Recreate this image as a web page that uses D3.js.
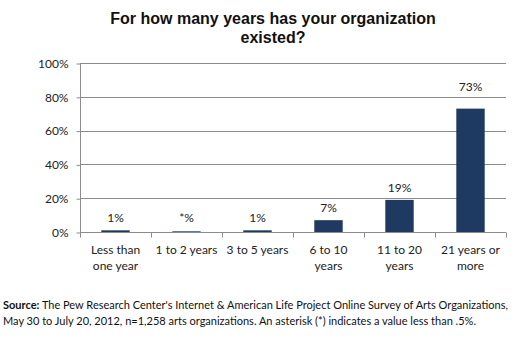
<!DOCTYPE html>
<html>
<head>
<meta charset="utf-8">
<script src="https://cdn.jsdelivr.net/npm/d3@7"></script>
<style>
  html, body { margin: 0; padding: 0; background: #fff; }
  svg { display: block; }
</style>
</head>
<body>
<div id="mydraw"></div>
<script>
// survey answers, share of arts organizations
var categories = [
  ["Less than", "one year"],
  ["1 to 2 years"],
  ["3 to 5 years"],
  ["6 to 10", "years"],
  ["11 to 20", "years"],
  ["21 years or", "more"]
];
var values = [1, 0.4, 1, 7, 19, 73];
var valueLabels = ["1%", "*%", "1%", "7%", "19%", "73%"];
var yTicks = [0, 20, 40, 60, 80, 100];
var titleLines = ["For how many years has your organization", "existed?"];

var width = 526, height = 342;
var margin = { top: 63, right: 20, bottom: 110, left: 80 };

var svg = d3.select("div#mydraw").append("svg")
    .attr("width", width)
    .attr("height", height);

var x = d3.scaleBand()
    .domain(d3.range(categories.length))
    .range([margin.left, 506])
    .paddingInner(0.6)
    .paddingOuter(0.3);

var y = d3.scaleLinear()
    .domain([0, 100])
    .range([232, margin.top]);

var bodyFont = "Lato, 'Open Sans', sans-serif";

// ---------------
// title
svg.append("text")
    .attr("x", 273)
    .attr("y", 24)
    .attr("text-anchor", "middle")
    .style("font-family", "'Liberation Sans', Arial, sans-serif")
    .style("font-weight", "bold")
    .style("font-size", "16px")
    .style("fill", "#111")
    .selectAll("tspan")
    .data(titleLines)
    .enter()
    .append("tspan")
    .attr("x", 273)
    .attr("dy", function(d, i) { return i ? 19 : 0; })
    .text(function(d) { return d; });

// ---------------
// gridlines + y axis
svg.append("g")
    .selectAll("line")
    .data(yTicks.filter(function(d) { return d > 0; }))
    .enter()
    .append("line")
    .attr("x1", margin.left)
    .attr("x2", 506)
    .attr("y1", function(d) { return Math.round(y(d)) + 0.5; })
    .attr("y2", function(d) { return Math.round(y(d)) + 0.5; })
    .attr("stroke", "#8c8c8c")
    .attr("stroke-width", 1);

var yAxis = svg.append("g")
    .attr("transform", "translate(" + (margin.left + 0.5) + ",0.5)")
    .call(d3.axisLeft(y)
        .tickValues(yTicks)
        .tickSize(4)
        .tickPadding(8)
        .tickFormat(function(d) { return d + "%"; }));

yAxis.select(".domain").attr("stroke", "#8c8c8c").attr("d", "M0," + Math.round(y(100)) + "V" + Math.round(y(0)));
yAxis.selectAll(".tick line").attr("stroke", "#8c8c8c");
yAxis.selectAll(".tick text")
    .style("font-family", bodyFont)
    .style("font-size", "12px")
    .style("fill", "#222");

// ---------------
// x axis baseline with category separators
var xAxis = svg.append("g")
    .attr("transform", "translate(0," + (Math.round(y(0)) + 0.5) + ")");

xAxis.append("line")
    .attr("x1", margin.left)
    .attr("x2", 506)
    .attr("stroke", "#8c8c8c");

var bounds = d3.range(categories.length + 1).map(function(i) {
    return margin.left + i * (506 - margin.left) / categories.length;
});

xAxis.selectAll("line.sep")
    .data(bounds)
    .enter()
    .append("line")
    .attr("class", "sep")
    .attr("x1", function(d) { return Math.round(d) + 0.5; })
    .attr("x2", function(d) { return Math.round(d) + 0.5; })
    .attr("y1", 0)
    .attr("y2", 5)
    .attr("stroke", "#8c8c8c");

xAxis.selectAll("text")
    .data(categories)
    .enter()
    .append("text")
    .attr("text-anchor", "middle")
    .style("font-family", bodyFont)
    .style("font-size", "12px")
    .style("fill", "#222")
    .each(function(d, i) {
        var cx = x(i) + x.bandwidth() / 2;
        d3.select(this).selectAll("tspan")
            .data(d)
            .enter()
            .append("tspan")
            .attr("x", cx)
            .attr("y", function(t, j) { return 21 + j * 16; })
            .text(function(t) { return t; });
    });

// ---------------
// bars
svg.append("g")
    .selectAll("rect")
    .data(values)
    .enter()
    .append("rect")
    .attr("x", function(d, i) { return x(i); })
    .attr("y", function(d) { return y(d); })
    .attr("width", x.bandwidth())
    .attr("height", function(d) { return y(0) - y(d); })
    .attr("fill", "#1f3a60");

// value labels; the tallest one sits a little higher, clear of the gridline
svg.append("g")
    .selectAll("text")
    .data(values)
    .enter()
    .append("text")
    .attr("x", function(d, i) { return x(i) + x.bandwidth() / 2; })
    .attr("y", function(d) { return y(Math.max(d, 1)) - (d > 50 ? 18 : 8); })
    .attr("text-anchor", "middle")
    .style("font-family", bodyFont)
    .style("font-size", "12px")
    .style("fill", "#222")
    .text(function(d, i) { return valueLabels[i]; });

// ---------------
// source note
var note = svg.append("text")
    .attr("x", 3)
    .attr("y", 309)
    .style("font-family", bodyFont)
    .style("font-size", "11px")
    .style("fill", "#111");

note.append("tspan").style("font-weight", "bold").text("Source:");
note.append("tspan").text(" The Pew Research Center's Internet & American Life Project Online Survey of Arts Organizations,");

svg.append("text")
    .attr("x", 3)
    .attr("y", 325)
    .style("font-family", bodyFont)
    .style("font-size", "11px")
    .style("fill", "#111")
    .text("May 30 to July 20, 2012, n=1,258 arts organizations. An asterisk (*) indicates a value less than .5%.");
</script>
</body>
</html>
